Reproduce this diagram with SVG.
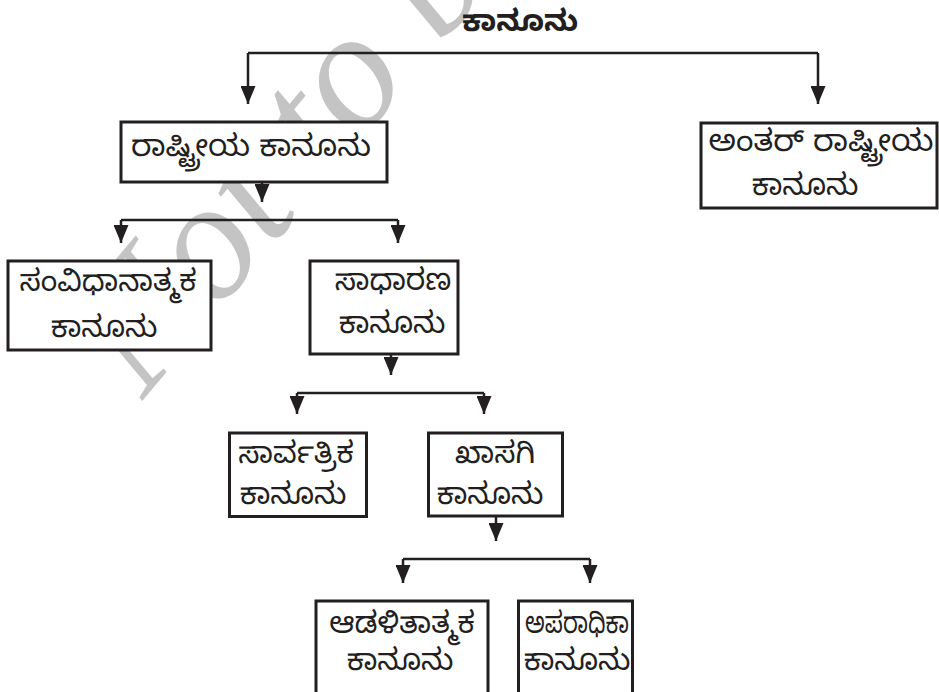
<svg xmlns="http://www.w3.org/2000/svg" width="939" height="692" viewBox="0 0 939 692">
<defs>
<marker id="ah" viewBox="0 0 15 18" refX="7.5" refY="18" markerWidth="15" markerHeight="18" markerUnits="userSpaceOnUse" orient="0">
<path d="M0,0 L15,0 L7.5,18 Z" fill="#231f20"/>
</marker>
</defs>
<style>
.box{fill:#fff;stroke:#231f20;stroke-width:3}
.ln{fill:none;stroke:#231f20;stroke-width:2.5}
.t{font-family:"Noto Sans Kannada","Noto Sans",sans-serif;font-size:30px;fill:#231f20;text-anchor:middle}
.wm{font-family:"Liberation Serif",serif;font-style:italic;font-size:170px;fill:#c4c4c4}
</style>
<rect width="939" height="692" fill="#fff"/>
<text class="wm" transform="translate(143,400) rotate(-50)">Not to be</text>
<g id="connectors">
<path class="ln" d="M248,53 H818"/>
<path class="ln" d="M248,53 V104" marker-end="url(#ah)"/>
<path class="ln" d="M818,53 V104" marker-end="url(#ah)"/>
<path class="ln" d="M262,182 V202" marker-end="url(#ah)"/>
<path class="ln" d="M121,220 H398"/>
<path class="ln" d="M121,220 V243" marker-end="url(#ah)"/>
<path class="ln" d="M398,220 V243" marker-end="url(#ah)"/>
<path class="ln" d="M391,354 V375" marker-end="url(#ah)"/>
<path class="ln" d="M297,393 H484"/>
<path class="ln" d="M297,393 V414" marker-end="url(#ah)"/>
<path class="ln" d="M484,393 V414" marker-end="url(#ah)"/>
<path class="ln" d="M496,516 V541" marker-end="url(#ah)"/>
<path class="ln" d="M403,559 H590"/>
<path class="ln" d="M403,559 V583" marker-end="url(#ah)"/>
<path class="ln" d="M590,559 V583" marker-end="url(#ah)"/>
</g>
<g id="title">
<text class="t" x="520" y="31" style="font-weight:bold">ಕಾನೂನು</text>
</g>
<g id="rashtriya">
<rect class="box" x="121" y="122" width="266" height="60"/>
<text class="t" x="251" y="156" textLength="240" lengthAdjust="spacingAndGlyphs">ರಾಷ್ಟ್ರೀಯ ಕಾನೂನು</text>
</g>
<g id="antar">
<rect class="box" x="701" y="123" width="236" height="85"/>
<text class="t"><tspan x="821" y="151" textLength="225" lengthAdjust="spacingAndGlyphs">ಅಂತರ್ ರಾಷ್ಟ್ರೀಯ</tspan><tspan x="805" y="195">ಕಾನೂನು</tspan></text>
</g>
<g id="samvidhana">
<rect class="box" x="8" y="261" width="203" height="89"/>
<text class="t"><tspan x="108" y="291">ಸಂವಿಧಾನಾತ್ಮಕ</tspan><tspan x="104" y="337">ಕಾನೂನು</tspan></text>
</g>
<g id="sadharana">
<rect class="box" x="310" y="261" width="148" height="93"/>
<text class="t"><tspan x="393" y="290">ಸಾಧಾರಣ</tspan><tspan x="392" y="333">ಕಾನೂನು</tspan></text>
</g>
<g id="sarvatrika">
<rect class="box" x="229.5" y="433" width="137" height="83.5"/>
<text class="t"><tspan x="296" y="463">ಸಾರ್ವತ್ರಿಕ</tspan><tspan x="293" y="504">ಕಾನೂನು</tspan></text>
</g>
<g id="khasagi">
<rect class="box" x="428.5" y="433" width="134" height="83"/>
<text class="t"><tspan x="495" y="463">ಖಾಸಗಿ</tspan><tspan x="490" y="504">ಕಾನೂನು</tspan></text>
</g>
<g id="adalitatmaka">
<rect class="box" x="316" y="601" width="172" height="100"/>
<text class="t"><tspan x="402" y="633">ಆಡಳಿತಾತ್ಮಕ</tspan><tspan x="400" y="670">ಕಾನೂನು</tspan></text>
</g>
<g id="aparadhika">
<rect class="box" x="518.5" y="601" width="114" height="100"/>
<text class="t"><tspan x="577" y="633" textLength="104" lengthAdjust="spacingAndGlyphs">ಅಪರಾಧಿಕಾ</tspan><tspan x="577" y="670">ಕಾನೂನು</tspan></text>
</g>
</svg>
